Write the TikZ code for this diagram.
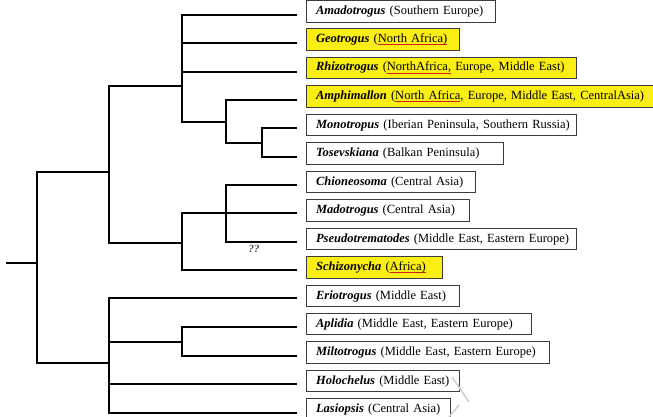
\documentclass[tikz,border=0pt]{standalone}
\usepackage{fontspec}
\setmainfont{Liberation Serif}
\definecolor{leafyellow}{RGB}{250,238,20}
\definecolor{boxgray}{RGB}{60,60,60}
\definecolor{ulred}{RGB}{215,30,30}
\newsavebox\ulboxA
\newcommand\rul[1]{\sbox\ulboxA{#1}\rlap{\textcolor{ulred}{\rule[-2.8pt]{\wd\ulboxA}{1.2pt}}}\usebox\ulboxA}
\newcommand\gn[1]{\textbf{\textit{#1}}}
\tikzset{
  tree/.style={line width=2.1pt, line join=miter, draw=black},
  leafbox/.style={draw=boxgray, line width=1.1pt, anchor=west, minimum height=21.5pt,
    inner xsep=9.5pt, inner ysep=0pt, align=left, font=\fontsize{12.5}{14}\selectfont},
  hl/.style={fill=leafyellow},
  mark2/.style={font=\bfseries\itshape\fontsize{11}{12}\selectfont, text=black!70, inner sep=0pt}
}
\begin{document}
\begin{tikzpicture}[x=1pt,y=-1pt]
\useasboundingbox (0,0) rectangle (653,417);
% leaf tips
\foreach \i/\yy in {1/15,2/43,3/72,4/100,5/128,6/157,7/185,8/213,9/242,10/270,11/298,12/327,13/356,14/384,15/413}{
  \coordinate (t\i) at (297,\yy);
}
% leaf boxes
\node[leafbox, text width=170pt] (b1) at (306,11.5) {\mbox{\gn{Amadotrogus} (Southern Europe)}};
\node[leafbox, hl, text width=134pt] (b2) at (306,39.5) {\mbox{\gn{Geotrogus} (\rul{North Africa)}}};
\node[leafbox, hl, text width=251pt] (b3) at (306,68) {\mbox{\gn{Rhizotrogus} (\rul{NorthAfrica,} Europe, Middle East)}};
\node[leafbox, hl, text width=331pt] (b4) at (306,96.5) {\mbox{\gn{Amphimallon} (\rul{North Africa}, Europe, Middle East, CentralAsia)}};
\node[leafbox, text width=251pt] (b5) at (306,125) {\mbox{\gn{Monotropus} (Iberian Peninsula, Southern Russia)}};
\node[leafbox, text width=178pt] (b6) at (306,153.5) {\mbox{\gn{Tosevskiana} (Balkan Peninsula)}};
\node[leafbox, text width=150pt] (b7) at (306,182) {\mbox{\gn{Chioneosoma} (Central Asia)}};
\node[leafbox, text width=144pt] (b8) at (306,210.5) {\mbox{\gn{Madotrogus} (Central Asia)}};
\node[leafbox, text width=251pt] (b9) at (306,239) {\mbox{\gn{Pseudotrematodes} (Middle East, Eastern Europe)}};
\node[leafbox, hl, text width=117pt] (b10) at (306,267.5) {\mbox{\gn{Schizonycha} (\rul{Africa)}}};
\node[leafbox, text width=134pt] (b11) at (306,296) {\mbox{\gn{Eriotrogus} (Middle East)}};
\node[leafbox, text width=206pt] (b12) at (306,324) {\mbox{\gn{Aplidia} (Middle East, Eastern Europe)}};
\node[leafbox, text width=224pt] (b13) at (306,352.5) {\mbox{\gn{Miltotrogus} (Middle East, Eastern Europe)}};
\node[leafbox, text width=134pt] (b14) at (306,381) {\mbox{\gn{Holochelus} (Middle East)}};
\node[leafbox, text width=125pt] (b15) at (306,409.5) {\mbox{\gn{Lasiopsis} (Central Asia)}};
% internal nodes
\coordinate (r0) at (6,263);
\coordinate (r) at (37,263);
\coordinate (u) at (109,172);
\coordinate (l) at (109,363);
\coordinate (a) at (182,86);
\coordinate (c) at (226,122);
\coordinate (d) at (262,143);
\coordinate (bb) at (182,243);
\coordinate (e) at (226,214);
\coordinate (f) at (182,342);
% tree
\draw[tree] (r0) -- (r);
\draw[tree] (u) -| (r) |- (l);
\draw[tree] (a) -| (u) |- (bb);
\draw[tree] (t1) -| (a) |- (c);
\draw[tree] (t2) -- (t2 -| a);
\draw[tree] (t3) -- (t3 -| a);
\draw[tree] (t4) -| (c) |- (d);
\draw[tree] (t5) -| (d) |- (t6);
\draw[tree] (t7) -| (e) |- (t9);
\draw[tree] (t8) -| (bb) |- (t10);
\draw[tree] (t11) -| (l) |- (t15);
\draw[tree] (t14) -- (t14 -| l);
\draw[tree] (f) -- (f -| l);
\draw[tree] (t12) -| (f) |- (t13);
\node[mark2] (qq) at (254,249) {??};
% faint watermark strokes
\draw[black!18, line width=1.6pt] (452,377) -- (469,402);
\draw[black!18, line width=1.6pt] (459,405) -- (449,417);
\end{tikzpicture}
\end{document}
